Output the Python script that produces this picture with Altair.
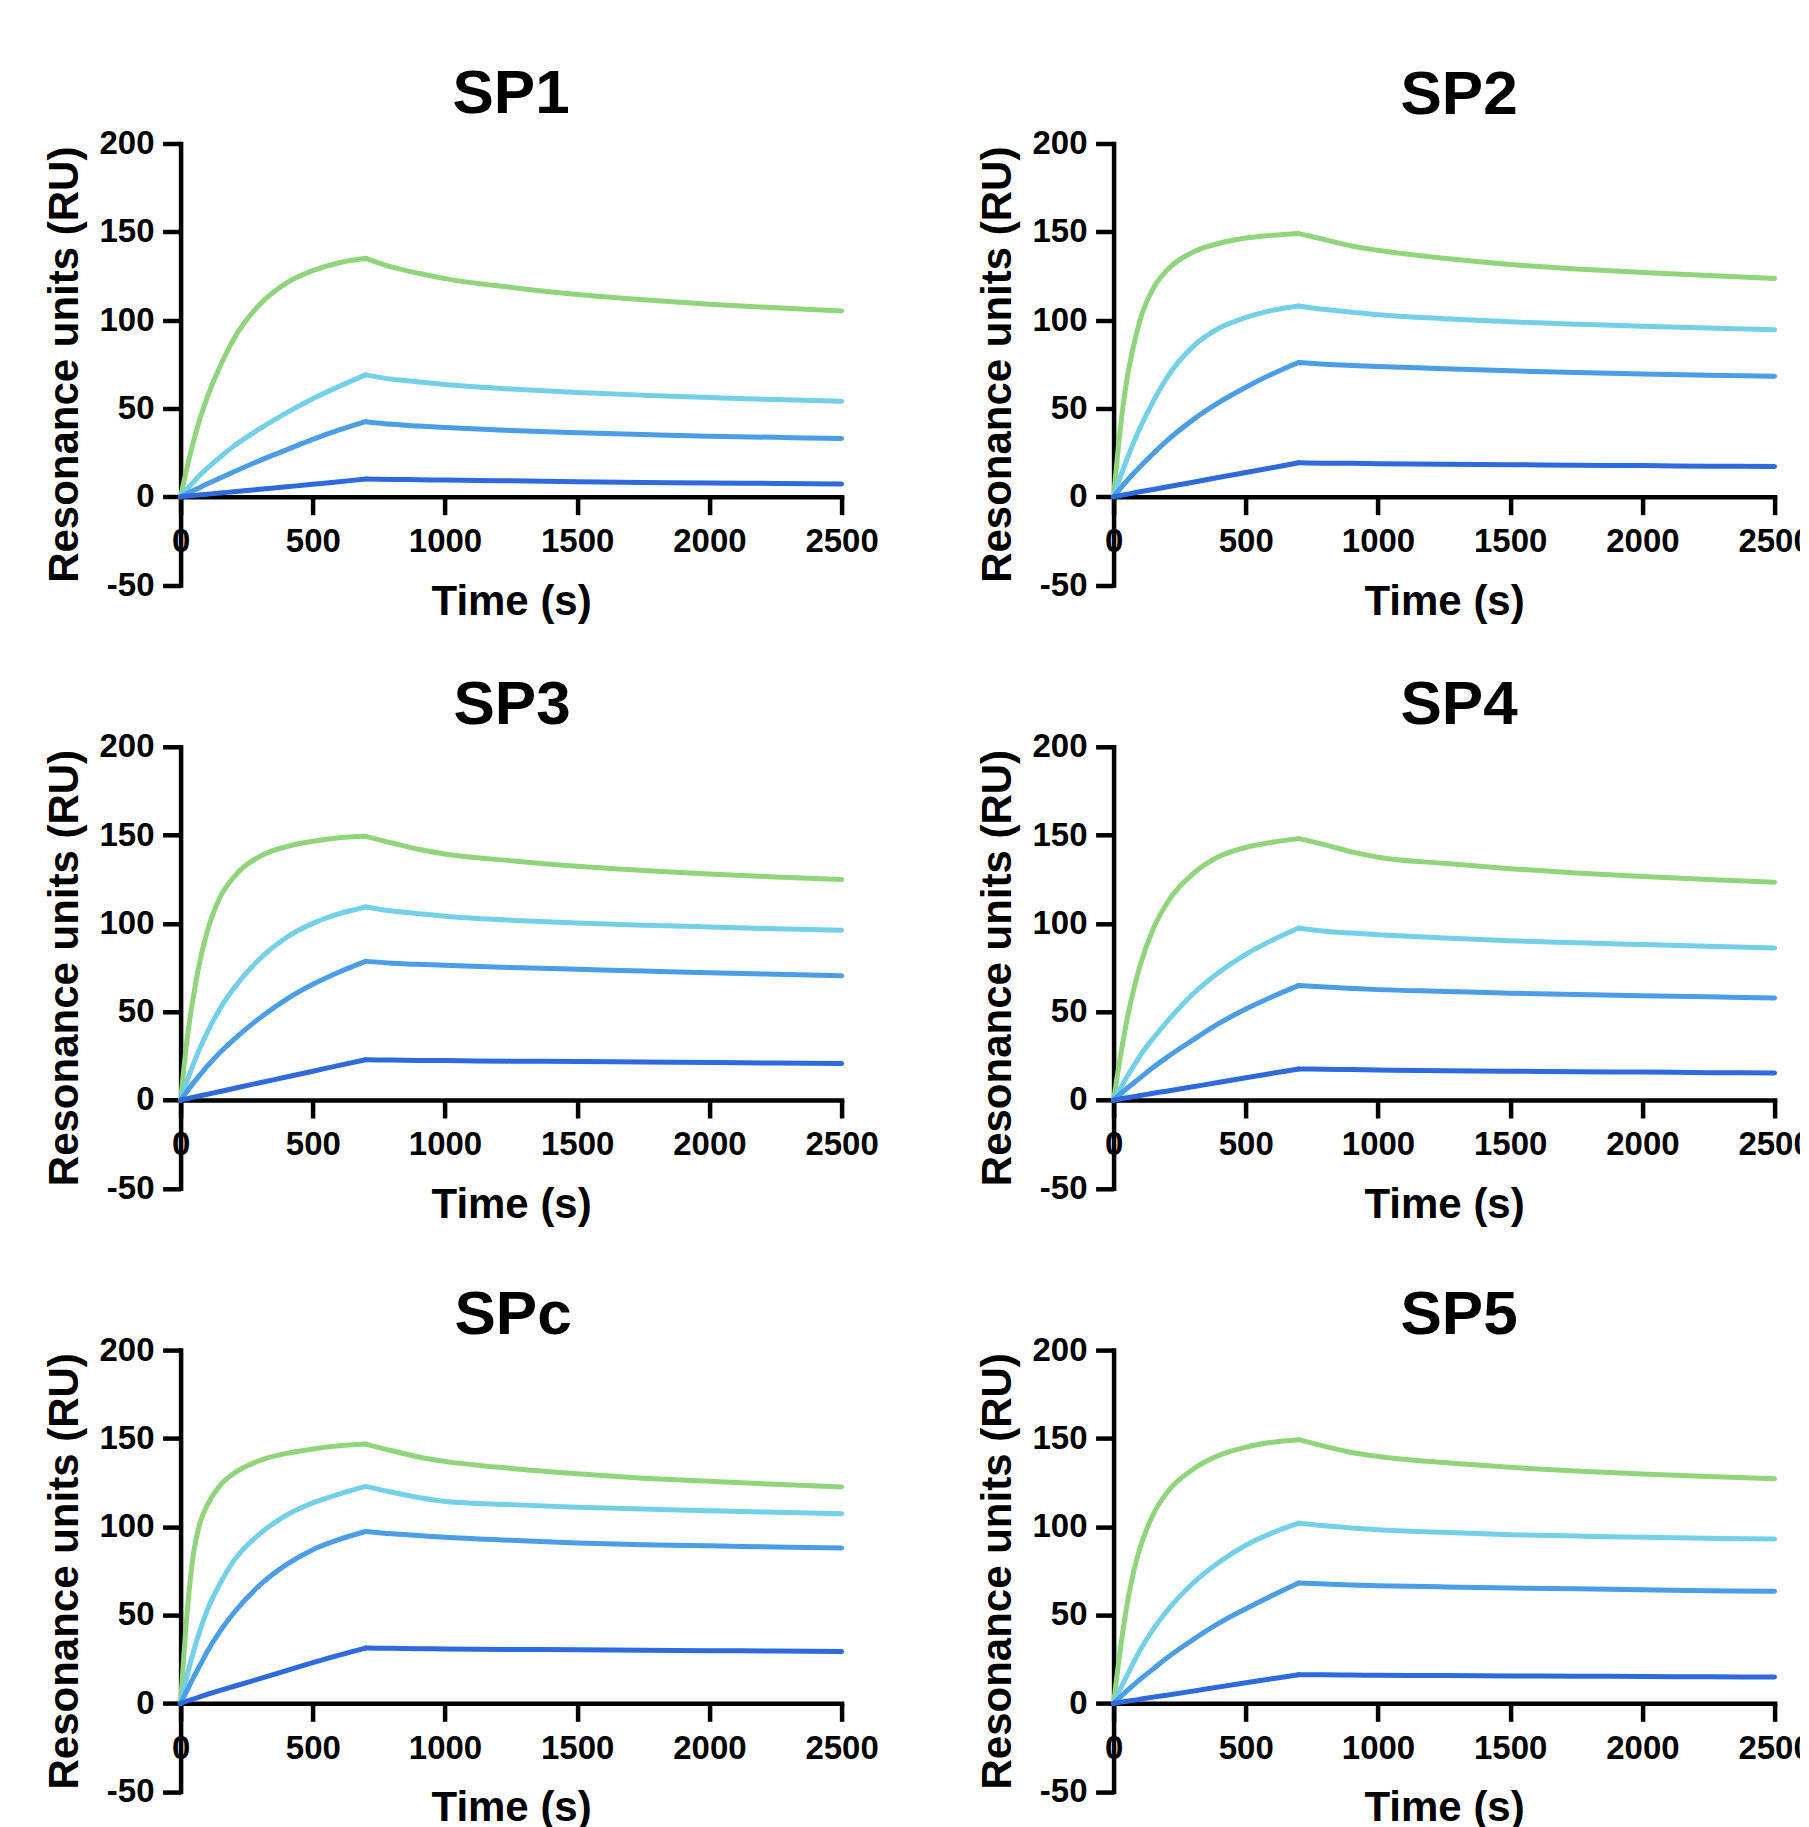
import altair as alt
import pandas as pd

# ---- data ----
TIME = [0, 25, 50, 75, 100, 150, 200, 300, 400, 500, 600, 700,
        800, 900, 1000, 1250, 1500, 1750, 2000, 2250, 2500]
INJECTION_END = 700
SERIES = ["c4", "c3", "c2", "c1"]
COLORS = ["#90d47c", "#73d0e8", "#4a9de6", "#2f6adc"]
X_TICKS = [0, 500, 1000, 1500, 2000, 2500]
Y_TICKS = [-50, 0, 50, 100, 150, 200]

SP1_C4 = [0, 17, 32, 45, 56, 74, 89, 109, 121, 128, 132.5, 135, 130, 126.5, 123.5, 118.5, 114.5, 111.5, 109, 107, 105.2]
SP1_C3 = [0, 4.5, 8.5, 12.5, 16, 22.5, 28.5, 38.5, 47.5, 55.5, 62.5, 69, 66.5, 65, 63.5, 61, 59, 57.5, 56.2, 55, 54]
SP1_C2 = [0, 1.8, 3.6, 5.4, 7.2, 10.6, 14, 20.5, 26.5, 32.5, 37.8, 42.5, 41, 40, 39.2, 37.5, 36.2, 35.2, 34.3, 33.6, 33]
SP1_C1 = [0, 0.4, 0.7, 1.1, 1.4, 2.1, 2.8, 4.2, 5.6, 7.0, 8.5, 10, 9.8, 9.6, 9.4, 9.0, 8.5, 8.1, 7.8, 7.5, 7.2]

SP2_C4 = [0, 38, 66, 85, 100, 118, 128, 138.5, 143.5, 146.5, 148, 149, 145.5, 142, 139.5, 135, 131.5, 129, 127, 125.2, 123.6]
SP2_C3 = [0, 11, 21, 30.5, 39, 54, 67, 85, 95.5, 101.5, 105.5, 108, 106, 104.5, 103, 100.8, 99, 97.7, 96.5, 95.5, 94.6]
SP2_C2 = [0, 4.5, 9, 13, 17, 24.5, 31.5, 43.5, 53.5, 62, 69.5, 76, 75, 74.3, 73.7, 72.5, 71.3, 70.3, 69.5, 68.8, 68.2]
SP2_C1 = [0, 0.7, 1.4, 2.1, 2.8, 4.1, 5.5, 8.2, 11, 13.7, 16.4, 19.2, 19, 18.9, 18.7, 18.4, 18.1, 17.8, 17.6, 17.3, 17.1]

SP3_C4 = [0, 35, 60, 80, 95, 115, 126, 138, 143.5, 146.5, 148.5, 149.3, 145.5, 142, 139.3, 135.5, 132.3, 130, 128, 126.3, 124.8]
SP3_C3 = [0, 11, 21, 30, 38, 52, 63, 80, 92, 100, 105.5, 109.3, 107, 105.5, 104, 101.8, 100.2, 99, 98, 97, 96.1]
SP3_C2 = [0, 5, 10, 14.5, 19, 27, 34, 46.5, 57, 65.5, 72.5, 78.5, 77.5, 76.8, 76.3, 75, 74, 73, 72, 71.2, 70.4]
SP3_C1 = [0, 0.8, 1.6, 2.4, 3.2, 4.8, 6.5, 9.8, 13, 16.3, 19.6, 22.8, 22.6, 22.4, 22.3, 22, 21.8, 21.5, 21.2, 20.9, 20.6]

SP4_C4 = [0, 24, 45, 62, 76, 97, 111, 128, 138, 143, 146, 148, 144.5, 140.5, 137.5, 134, 131, 128.5, 126.5, 124.8, 123.3]
SP4_C3 = [0, 6.5, 13, 19, 25, 35, 44, 60, 72.5, 82.5, 90.5, 97.4, 95.5, 94.5, 93.6, 91.8, 90.2, 89, 88, 87, 86.1]
SP4_C2 = [0, 3.3, 6.5, 9.5, 12.5, 18.5, 24, 34, 43.5, 51.5, 58.5, 64.8, 64, 63.2, 62.5, 61.5, 60.5, 59.7, 59, 58.4, 57.8]
SP4_C1 = [0, 0.6, 1.3, 1.9, 2.5, 3.8, 5, 7.5, 10, 12.6, 15.1, 17.6, 17.4, 17.2, 17, 16.6, 16.3, 16, 15.8, 15.5, 15.3]

SPC_C4 = [0, 52, 86, 103, 112, 123.5, 130, 137.5, 141.5, 144, 145.8, 146.8, 143, 139.5, 137, 133, 130, 127.5, 125.7, 124, 122.5]
SPC_C3 = [0, 16, 30, 42, 52.5, 68, 80.5, 96, 106.5, 113.5, 118.5, 122.8, 119.5, 116.5, 114.3, 112.5, 111, 110, 109, 108.2, 107.4]
SPC_C2 = [0, 7.5, 15, 22, 29, 41, 51, 67, 78.5, 87, 92.8, 97.3, 96, 95, 94, 92.3, 90.8, 89.8, 89.2, 88.5, 87.9]
SPC_C1 = [0, 1.3, 2.5, 3.8, 5, 7.3, 9.5, 14, 18.5, 23, 27.3, 31.3, 31.1, 30.9, 30.8, 30.5, 30.3, 30, 29.8, 29.6, 29.4]

SP5_C4 = [0, 30, 55, 74, 88, 107, 119, 132.5, 140.5, 145, 147.8, 149.3, 145.5, 142, 139.8, 136.3, 133.6, 131.5, 129.8, 128.4, 127.2]
SP5_C3 = [0, 8, 15.5, 23, 30, 42, 52, 68, 80, 89.5, 96.5, 102, 100.5, 99.3, 98.3, 96.8, 95.5, 94.7, 94, 93.5, 93]
SP5_C2 = [0, 3.5, 7, 10.3, 13.5, 19.5, 25.5, 36, 45.5, 53.5, 61, 68.1, 67.5, 67, 66.6, 65.9, 65.3, 64.8, 64.3, 63.8, 63.4]
SP5_C1 = [0, 0.6, 1.2, 1.7, 2.3, 3.5, 4.6, 6.9, 9.3, 11.6, 13.9, 16.2, 16.1, 16, 15.9, 15.7, 15.5, 15.3, 15.2, 15, 14.9]

FONT = "Liberation Sans"
PW, PH = 661, 441.5


def frame(series_values):
    rows = []
    for s, vals in zip(SERIES, series_values):
        for t, v in zip(TIME, vals):
            if t <= INJECTION_END:
                rows.append({"series": s, "phase": "association", "t": t, "v": v})
            if t >= INJECTION_END:
                rows.append({"series": s, "phase": "dissociation", "t": t, "v": v})
    return pd.DataFrame(rows)


def panel(name, series_values, dx, toff):
    x_axis = alt.Axis(values=X_TICKS, labelExpr="'' + datum.value",
                      offset=-PH * 50 / 250, labelPadding=37,
                      labelBaseline="alphabetic", labelFlush=False,
                      title="Time (s)", titleX=PW / 2, titleY=117.4,
                      titleBaseline="alphabetic", titleAlign="center")
    y_axis = alt.Axis(values=Y_TICKS, labelExpr="'' + datum.value",
                      labelPadding=8.6, labelFlush=False, labelBaseline="middle",
                      title="Resonance units (RU)", titleX=-116, titleY=PH / 2,
                      titleAngle=270, titleBaseline="middle", titleAlign="center")
    lines = alt.Chart(frame(series_values)).mark_line(
        strokeWidth=5, strokeCap="round", strokeJoin="round", interpolate="monotone"
    ).encode(
        x=alt.X("t:Q", scale=alt.Scale(domain=[0, 2500], nice=False, zero=False), axis=x_axis),
        y=alt.Y("v:Q", scale=alt.Scale(domain=[-50, 200], nice=False), axis=y_axis),
        color=alt.Color("series:N", scale=alt.Scale(domain=SERIES, range=COLORS), legend=None),
        detail="phase:N",
    )
    heading = alt.Chart(pd.DataFrame({"label": [name]})).mark_text(
        font=FONT, fontSize=62, fontWeight="bold", color="black",
        align="center", baseline="alphabetic",
    ).encode(
        text="label:N",
        x=alt.value(PW / 2 + dx),
        y=alt.value(-toff),
    )
    return alt.layer(lines, heading).properties(width=PW, height=PH)


panels = [
    panel("SP1", [SP1_C4, SP1_C3, SP1_C2, SP1_C1], 0, 30.8),
    panel("SP2", [SP2_C4, SP2_C3, SP2_C2, SP2_C1], 15, 30),
    panel("SP3", [SP3_C4, SP3_C3, SP3_C2, SP3_C1], 1, 23),
    panel("SP4", [SP4_C4, SP4_C3, SP4_C2, SP4_C1], 15, 23),
    panel("SPc", [SPC_C4, SPC_C3, SPC_C2, SPC_C1], 2, 16),
    panel("SP5", [SP5_C4, SP5_C3, SP5_C2, SP5_C1], 15, 16),
]

chart = alt.concat(*panels, columns=2, spacing={"row": 161.3, "column": 272},
                   bounds="flush").properties(
    padding={"left": 34.6, "top": 54.5, "right": -12, "bottom": 0},
    background="white",
).configure_view(stroke=None).configure_axis(
    grid=False, domainColor="black", domainWidth=4.5, domainCap="square",
    tickColor="black", tickWidth=4.5, tickSize=18,
    labelFont=FONT, labelFontWeight="bold", labelFontSize=33, labelColor="black",
    titleFont=FONT, titleFontWeight="bold", titleFontSize=42, titleColor="black",
)

chart.save("out.html", embed_options={"renderer": "svg", "actions": False})
